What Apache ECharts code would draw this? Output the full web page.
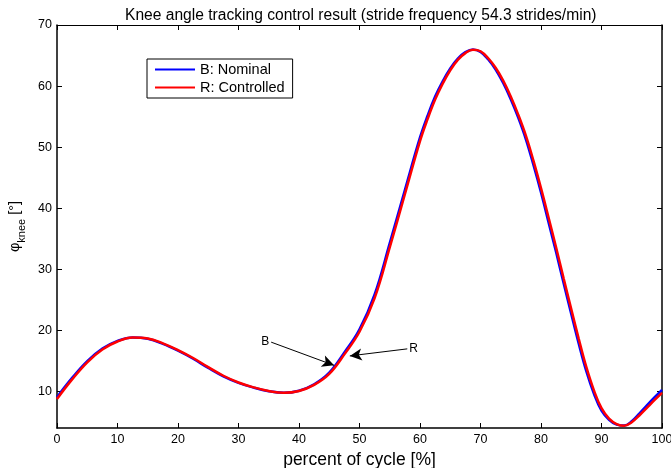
<!DOCTYPE html>
<html>
<head>
<meta charset="utf-8">
<script src="https://cdn.jsdelivr.net/npm/echarts@6/dist/echarts.min.js"></script>
<style>html,body{margin:0;padding:0;background:#fff}#c{width:671px;height:468px}</style>
</head>
<body>
<div id="c"></div>
<script>
var xPct = [0,2.5,5,7.5,10,12.5,15,17.5,20,22.5,25,27.5,30,32.5,35,37.5,40,42.5,45,47.5,50,52.5,55,57.5,60,61.25,62.5,63.75,65,66.25,67.5,68.75,70,71.25,72.5,73.75,75,76.25,77.5,78.75,80,81.25,82.5,83.75,85,86.25,87.5,88.75,90,91.25,92.5,93.75,95,96.25,97.5,98.75,100];
var nominalB = [9.1,12.25,15.0,17.05,18.3,18.87,18.65,17.82,16.7,15.38,13.88,12.5,11.43,10.65,10.06,9.8,10.15,11.2,13.1,16.4,20.2,25.9,34.3,43.0,51.6,55.15,58.3,60.8,62.9,64.5,65.55,66.0,65.6,64.4,62.7,60.5,57.85,54.8,51.3,47.1,42.6,37.7,32.8,27.7,22.7,17.8,13.3,9.65,6.9,5.4,4.6,4.45,5.15,6.4,7.75,9.05,10.3];
var controlledR = [8.8,12.0,14.8,16.9,18.2,18.85,18.7,17.9,16.8,15.5,14.0,12.6,11.5,10.7,10.1,9.8,10.1,11.1,12.9,16.1,19.8,25.3,33.6,42.3,51.0,54.6,57.8,60.4,62.6,64.3,65.4,65.95,65.7,64.6,63.0,60.9,58.3,55.3,51.9,47.8,43.3,38.5,33.6,28.5,23.5,18.6,14.0,10.2,7.3,5.6,4.7,4.4,5.0,6.1,7.35,8.6,9.8];
var yTicks = [10,20,30,40,50,60,70];
var xTicks = [0,10,20,30,40,50,60,70,80,90,100];
var arrowB = {label:'B', from:[35.4,18.1], to:[45.8,14.3]};
var arrowR = {label:'R', from:[57.9,17.0], to:[48.4,15.85]};

function pairs(xs, ys){ return xs.map(function(x,i){return [x, ys[i]];}); }

var FONT = 'Liberation Sans, Arial, Helvetica, sans-serif';
var YMIN = 4.05, YMAX = 70;

function arrowLine(a){
  return [
    {coord:a.from, symbol:'none', label:{show:true, position:'start', formatter:a.label, color:'#000', fontSize:12, fontFamily:FONT, distance:2}},
    {coord:a.to, symbol:'arrow'}
  ];
}

var chart = echarts.init(document.getElementById('c'), null, {renderer:'canvas'});
chart.setOption({
  animation:false,
  backgroundColor:'#fff',
  title:{
    text:'Knee angle tracking control result (stride frequency 54.3 strides/min)',
    left:120, top:3,
    textStyle:{fontSize:15.6, fontWeight:'normal', color:'#000', fontFamily:FONT}
  },
  legend:{
    orient:'vertical', left:147, top:59,
    backgroundColor:'#fff', borderColor:'#000', borderWidth:1,
    padding:[3,8,3,8], itemGap:3, itemWidth:40, itemHeight:2,
    textStyle:{fontSize:14.5, color:'#000', fontFamily:FONT, padding:[0,0,0,0]},
    data:[{name:'B: Nominal', icon:'rect'},{name:'R: Controlled', icon:'rect'}]
  },
  grid:{left:57, right:9, top:25, bottom:40, containLabel:false, outerBoundsMode:'none'},
  xAxis:[{
    type:'value', min:0, max:100, interval:10, position:'bottom',
    name:'percent of cycle [%]', nameLocation:'middle', nameGap:20,
    nameTextStyle:{fontSize:17.5, color:'#000', fontFamily:FONT},
    axisLine:{show:true, onZero:false, lineStyle:{color:'#000', width:1.5}},
    axisTick:{show:true, inside:true, length:5, lineStyle:{color:'#000'}},
    axisLabel:{color:'#000', fontSize:12.5, fontFamily:FONT, margin:5},
    splitLine:{show:false}
  },{
    type:'value', min:0, max:100, interval:10, position:'top',
    axisLine:{show:true, onZero:false, lineStyle:{color:'#000', width:1}},
    axisTick:{show:true, inside:true, length:5, lineStyle:{color:'#000'}},
    axisLabel:{show:false}, splitLine:{show:false}
  }],
  yAxis:[{
    type:'value', min:YMIN, max:YMAX, position:'left',
    name:'{p|φ}{s|knee}{p| [°]}', nameLocation:'middle', nameGap:28, nameRotate:90,
    nameTextStyle:{color:'#000', fontFamily:FONT, rich:{
      p:{fontSize:14.5, color:'#000', fontFamily:FONT, lineHeight:24, verticalAlign:'middle'},
      s:{fontSize:11, color:'#000', fontFamily:FONT, lineHeight:24, verticalAlign:'bottom'}
    }},
    axisLine:{show:true, onZero:false, lineStyle:{color:'#000', width:1.5}},
    axisTick:{show:true, inside:true, length:5, customValues:yTicks, lineStyle:{color:'#000'}},
    axisLabel:{color:'#000', fontSize:12.5, fontFamily:FONT, margin:5, customValues:yTicks},
    splitLine:{show:false}
  },{
    type:'value', min:YMIN, max:YMAX, position:'right',
    axisLine:{show:true, onZero:false, lineStyle:{color:'#000', width:1.5}},
    axisTick:{show:true, inside:true, length:5, customValues:yTicks, lineStyle:{color:'#000'}},
    axisLabel:{show:false}, splitLine:{show:false}
  }],
  series:[{
    name:'B: Nominal', type:'line', smooth:0.4, symbol:'none',
    xAxisIndex:0, yAxisIndex:0,
    lineStyle:{color:'#0000ff', width:2.5}, itemStyle:{color:'#0000ff'},
    data:pairs(xPct, nominalB)
  },{
    name:'R: Controlled', type:'line', smooth:0.4, symbol:'none',
    xAxisIndex:0, yAxisIndex:0,
    lineStyle:{color:'#ff0000', width:2.5}, itemStyle:{color:'#ff0000'},
    data:pairs(xPct, controlledR),
    markLine:{
      silent:true, symbolSize:[9,12],
      lineStyle:{color:'#000', width:1, type:'solid'},
      data:[arrowLine(arrowB), arrowLine(arrowR)]
    }
  }]
});
</script>
</body>
</html>
